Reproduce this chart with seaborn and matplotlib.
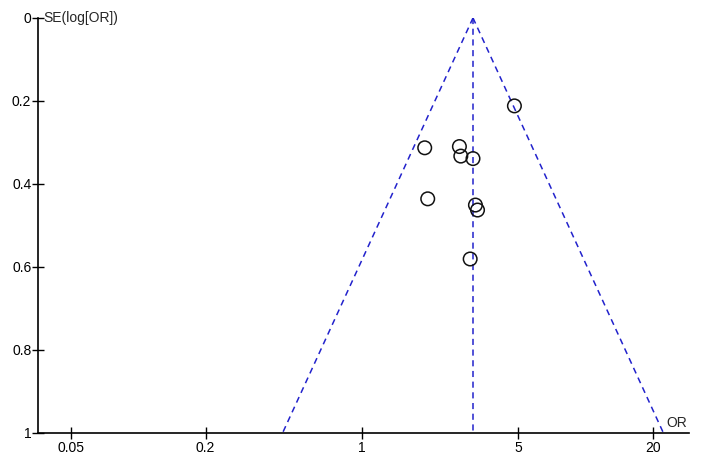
import numpy as np
import pandas as pd
import matplotlib
matplotlib.use("Agg")
import matplotlib.pyplot as plt
import seaborn as sns

# study estimates
odds_ratio = [4.81, 1.91, 2.73, 2.77, 3.14, 1.97, 3.22, 3.29, 3.05]
se_log_or = [0.212, 0.313, 0.310, 0.333, 0.339, 0.436, 0.451, 0.463, 0.581]
pooled_or = 3.14
se_range = [0.0, 1.0]
x_ticks = [0.05, 0.2, 1, 5, 20]
x_tick_labels = ["0.05", "0.2", "1", "5", "20"]
y_ticks = [0, 0.2, 0.4, 0.6, 0.8, 1]
y_tick_labels = ["0", "0.2", "0.4", "0.6", "0.8", "1"]

df = pd.DataFrame({"OR": odds_ratio, "SE": se_log_or})

# pseudo 95% confidence limits of the funnel
se = np.array(se_range)
funnel = pd.DataFrame({
    "SE": np.concatenate([se, se]),
    "OR": np.concatenate([np.exp(np.log(pooled_or) - 1.96 * se),
                          np.exp(np.log(pooled_or) + 1.96 * se)]),
    "side": ["low"] * 2 + ["high"] * 2,
})
centre = pd.DataFrame({"SE": se, "OR": [pooled_or] * 2})

sns.set_style("white")
plt.rcParams["font.family"] = ["Liberation Sans", "DejaVu Sans"]

fig = plt.figure(figsize=(7.08, 4.72), dpi=100)
ax = fig.add_axes([0.054, 0.083, 0.919, 0.879])

for side, part in funnel.groupby("side"):
    ax.plot(part["OR"], part["SE"], color="#2222cc", ls=(0, (4, 3)), lw=1.1)
ax.plot(centre["OR"], centre["SE"], color="#2222cc", ls=(0, (4, 3)), lw=1.1)

sns.scatterplot(data=df, x="OR", y="SE", ax=ax, s=95, marker="o",
                facecolors="none", edgecolor="#111111", linewidth=1.1, zorder=3)

ax.set_xscale("log")
ax.set_xlim(0.0357, 29)
ax.set_ylim(1, 0)
ax.set_xticks(x_ticks)
ax.set_xticklabels(x_tick_labels)
ax.set_yticks(y_ticks)
ax.set_yticklabels(y_tick_labels)
ax.minorticks_off()
ax.set_xlabel("")
ax.set_ylabel("")
ax.tick_params(bottom=True, left=True, direction="inout", length=8, width=1,
               labelsize=10, colors="black")
ax.tick_params(axis="x", pad=2)
ax.tick_params(axis="y", pad=1)

for s in ["top", "right"]:
    ax.spines[s].set_visible(False)
for s in ["left", "bottom"]:
    ax.spines[s].set_color("black")
    ax.spines[s].set_linewidth(1.2)

ax.text(0.008, 1.0, "SE(log[OR])", transform=ax.transAxes, fontsize=10,
        ha="left", va="center")
ax.text(0.966, 0.006, "OR", transform=ax.transAxes, fontsize=10,
        ha="left", va="bottom")

fig.savefig("out.png", dpi=100)
